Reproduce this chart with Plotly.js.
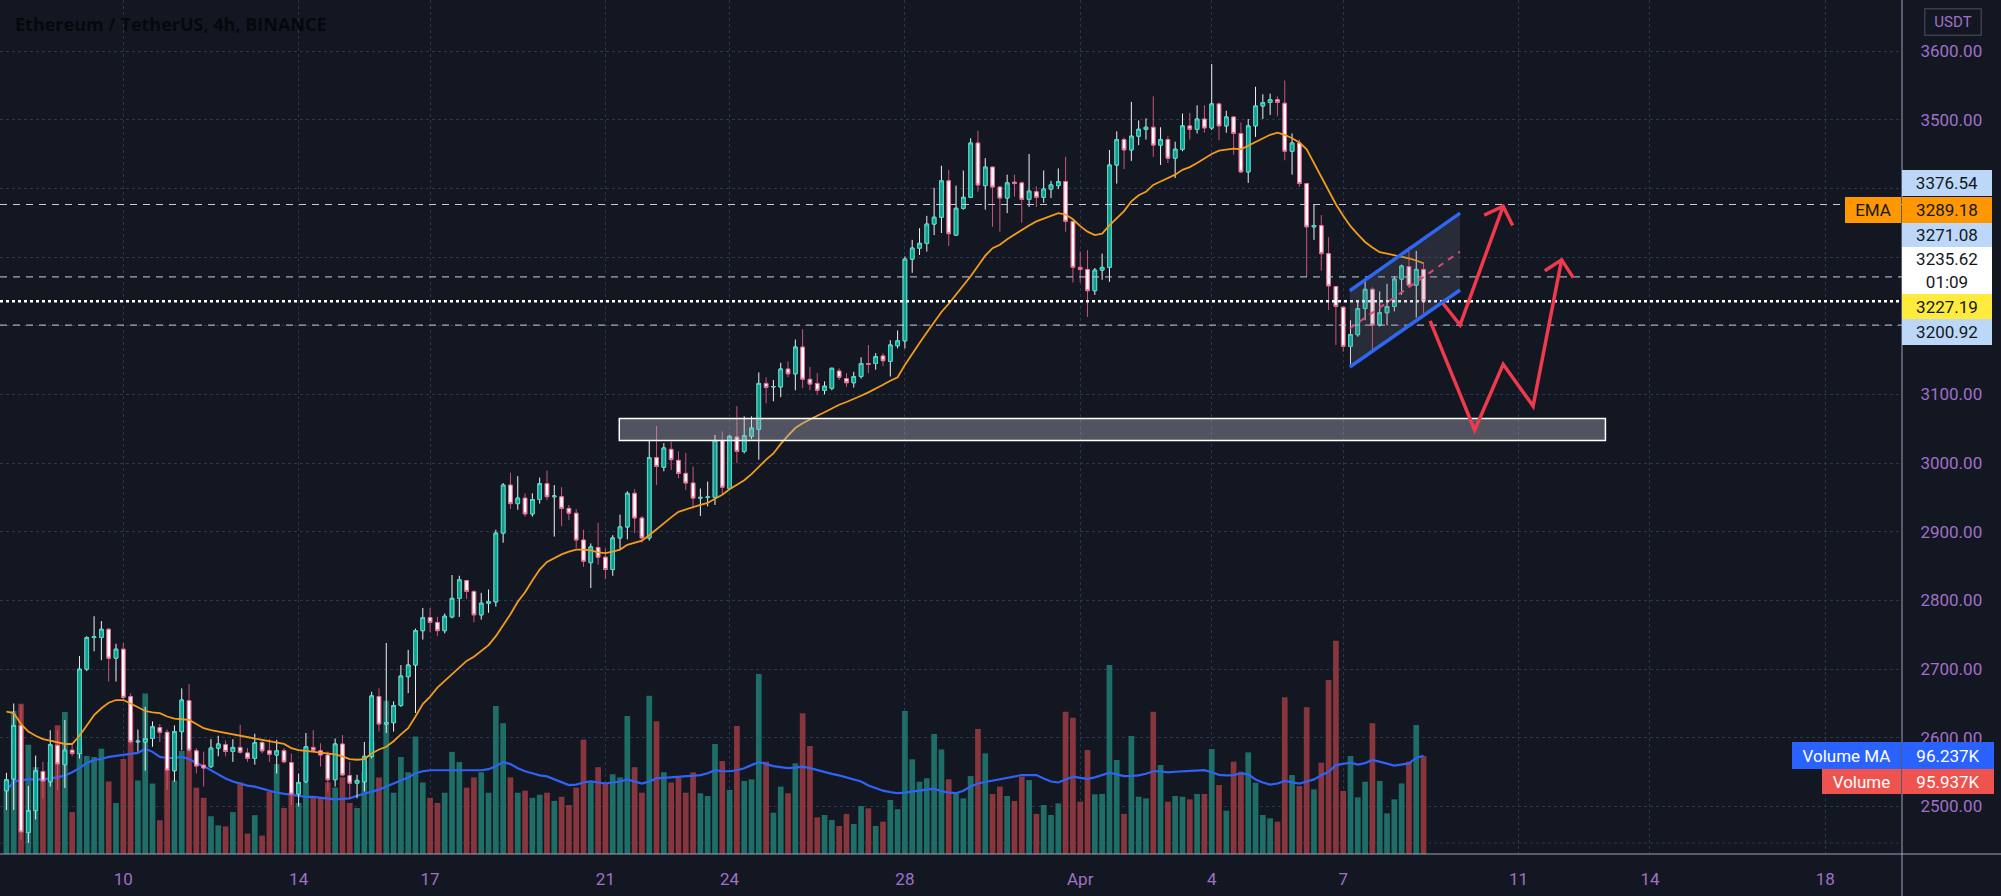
<!DOCTYPE html>
<html><head><meta charset="utf-8">
<script src="https://cdn.plot.ly/plotly-3.0.1.min.js"></script>
<style>html,body{margin:0;padding:0;background:#131722;}#chart{width:2001px;height:896px;}</style>
</head><body><div id="chart"></div>
<script>
// bar index of first candle (bar 0 = Mar 10 00:00, 4h bars)
const firstBar = -16;

const openP = [
2523,2540,2618,2462,2494,2551,2536,2589,2561,2582,
2577,2700,2746,2746,2758,2716,2729,2660,2594,2594,
2599,2615,2608,2552,2609,2654,2581,2560,2558,2585,
2590,2580,2586,2578,2570,2593,2581,2575,2581,2564,
2518,2536,2586,2581,2575,2539,2591,2545,2534,2536,
2573,2660,2620,2622,2647,2689,2706,2756,2775,2768,
2756,2776,2803,2829,2813,2779,2796,2798,2898,2968,
2941,2949,2926,2947,2970,2951,2951,2934,2927,2888,
2855,2877,2863,2845,2891,2907,2956,2920,2891,3008,
2994,3020,3004,2985,2971,2949,2950,2950,3033,2963,
3038,3017,3039,3049,3116,3111,3111,3137,3130,3169,
3122,3116,3106,3109,3134,3123,3117,3126,3145,3145,
3156,3148,3171,3178,3297,3313,3320,3348,3358,3411,
3332,3371,3387,3466,3404,3431,3402,3386,3409,3408,
3384,3395,3387,3399,3404,3410,3352,3285,3282,3251,
3281,3285,3434,3471,3456,3476,3486,3489,3463,3471,
3444,3457,3491,3486,3501,3488,3523,3491,3504,3480,
3424,3491,3520,3525,3529,3524,3454,3466,3407,3344,
3346,3305,3257,3227,3170,3187,3225,3253,3201,3219,
3228,3268,3286,3259,3282];
const highP = [
2549,2650,2648,2530,2574,2565,2611,2611,2626,2590,
2719,2748,2777,2770,2760,2737,2738,2665,2612,2645,
2624,2620,2612,2618,2672,2678,2585,2580,2598,2603,
2596,2598,2619,2585,2606,2598,2598,2597,2585,2577,
2548,2607,2611,2592,2580,2599,2604,2565,2546,2594,
2667,2672,2738,2653,2706,2728,2759,2789,2789,2776,
2781,2837,2836,2830,2815,2811,2816,2903,2971,2986,
2981,2956,2956,2979,2989,2968,2965,2939,2933,2903,
2883,2913,2876,2895,2925,2959,2962,2923,3033,3054,
3029,3031,3017,3015,2995,2963,2973,3041,3046,3041,
3083,3068,3068,3132,3125,3121,3146,3148,3180,3195,
3140,3131,3119,3139,3138,3131,3133,3154,3172,3160,
3160,3179,3193,3301,3325,3342,3360,3401,3433,3427,
3404,3426,3473,3484,3444,3432,3403,3420,3420,3410,
3450,3403,3426,3411,3429,3446,3353,3308,3310,3284,
3305,3456,3483,3474,3526,3499,3502,3534,3489,3476,
3468,3509,3510,3521,3521,3581,3525,3513,3505,3496,
3501,3548,3537,3538,3534,3557,3480,3471,3408,3376,
3361,3329,3257,3228,3208,3235,3264,3256,3250,3261,
3272,3289,3315,3309,3292];
const lowP = [
2495,2495,2451,2447,2481,2512,2529,2524,2527,2573,
2570,2697,2726,2713,2682,2682,2655,2590,2580,2552,
2587,2594,2524,2536,2582,2578,2548,2529,2556,2573,
2573,2565,2577,2565,2561,2577,2565,2548,2563,2502,
2500,2534,2580,2558,2522,2529,2544,2511,2512,2522,
2570,2609,2607,2609,2645,2665,2636,2743,2754,2748,
2752,2774,2776,2802,2768,2772,2782,2791,2884,2933,
2932,2922,2922,2941,2946,2893,2908,2917,2876,2849,
2818,2852,2831,2836,2875,2889,2898,2884,2887,2968,
2988,2990,2978,2961,2934,2923,2937,2939,2954,2961,
3000,3014,3035,3005,3087,3090,3096,3125,3106,3109,
3106,3100,3100,3106,3121,3111,3110,3123,3131,3136,
3141,3126,3167,3167,3277,3303,3308,3332,3335,3316,
3331,3369,3386,3395,3369,3344,3337,3364,3388,3350,
3373,3373,3379,3386,3399,3337,3263,3263,3213,3245,
3267,3264,3407,3428,3440,3463,3471,3446,3434,3437,
3415,3454,3471,3480,3481,3485,3470,3481,3449,3422,
3408,3475,3501,3507,3505,3441,3420,3402,3271,3325,
3280,3223,3172,3162,3144,3184,3208,3162,3199,3201,
3221,3245,3255,3212,3218];
const closeP = [
2539,2618,2463,2494,2552,2537,2590,2562,2582,2577,
2700,2746,2747,2758,2716,2729,2659,2594,2595,2599,
2616,2608,2553,2609,2655,2582,2559,2556,2585,2591,
2580,2586,2579,2570,2593,2581,2576,2581,2565,2518,
2535,2587,2582,2575,2539,2591,2546,2534,2538,2573,
2661,2620,2622,2647,2690,2706,2756,2775,2768,2756,
2777,2803,2830,2813,2779,2796,2798,2898,2968,2941,
2949,2926,2947,2970,2951,2952,2934,2927,2888,2857,
2878,2863,2845,2891,2907,2956,2920,2891,3008,2995,
3022,3005,2985,2971,2949,2950,2950.5,3033,2965,3039,
3017,3040,3051,3116,3110,3111.5,3137,3130,3169,3122,
3115,3106,3112,3138,3125,3117,3126,3145,3144,3155,
3149,3172,3178,3297,3313,3320,3348,3358,3411,3334,
3371,3387,3466,3405,3431,3402,3386,3408,3407,3384,
3396,3387,3399,3405,3410,3352,3285,3282,3251,3281,
3285,3434,3471,3456,3476,3486,3489,3463,3471,3444,
3457,3491,3486,3501,3488,3523,3491,3504,3480,3424,
3491,3520,3525,3529,3525,3454,3466,3407,3344,3346,
3305,3258,3228,3170,3187,3225,3253,3201,3219,3228,
3268,3287,3259,3282,3236];
const volumeK = [
72,140,147,107,85,73,90,126,139,41,
105,96,95,103,71,50,93,139,72,157,
69,33,83,72,101,101,65,55,37,28,
27,41,70,20,38,18,61,88,45,60,
50,70,55,55,70,65,75,50,45,80,
110,75,150,60,95,80,115,70,55,50,
60,100,90,65,75,80,60,145,128,75,
60,62,55,58,60,52,56,48,65,112,
70,85,70,78,75,135,85,60,155,130,
80,70,75,60,80,
59.4,56.8,107.7,91,62.7,125.3,71.5,73.1,176.2,90.4,
40.4,66,59.4,88.8,137.7,105.7,35.9,38.2,33.3,27.4,
39.2,29.4,47,44.7,27.4,31.7,52.9,43.8,140,92.7,
70.8,74.1,117.5,102.4,73.1,59.4,54.5,76.3,122.4,98.5,
58.8,66,56.8,51.9,75.7,72.4,39.2,48,38.2,49.6,
139.3,133.4,51.2,101.8,58.4,58.8,185,92,39.2,115.5,
56.1,54.5,139.3,87.1,51.2,56.8,56.1,53.5,58.8,58.8,
102.8,67.5,42.4,90.4,80.6,99.5,69.8,38.2,34.9,31.7,
153.4,77.3,66.5,143.6,63.3,89.4,170.4,208.8,61.7,95.9,
55.5,70.8,128,71.5,39.8,53.5,69.1,90.4,126.3,95.9];
const emaLine = [
2638,2636,2620,2609,2603,2598,2596,2593,2591,2591,
2603,2618,2633,2643,2651,2655,2655,2650,2644,2639,
2637,2636,2631,2628,2627,2626,2620,2614,2611,2609,
2607,2605,2604,2602,2600,2598,2596,2594,2591,2585,
2582,2581,2580,2579,2578,2576,2573,2569,2568,2569,
2577,2583,2587,2595,2605,2614,2631,2649,2660,2673,
2683,2693,2702,2712,2718,2726,2735,2748,2764,2780,
2798,2812,2829,2845,2856,2862,2867,2871,2874,2874,
2873,2870,2869,2871,2874,2881,2884,2887,2895,2904,
2913,2921,2929,2933,2936,2939,2942,2948,2954,2962,
2969,2975,2984,2995,3005,3014,3028,3040,3051,3058,
3064,3069,3074,3080,3085,3089,3093,3098,3103,3108,
3114,3120,3125,3143,3160,3175,3190,3205,3220,3232,
3245,3258,3272,3287,3302,3313,3318,3326,3333,3340,
3346,3352,3356,3361,3364,3362,3355,3345,3337,3332,
3334,3346,3356,3367,3381,3390,3395,3405,3410,3415,
3420,3427,3431,3437,3444,3450,3455,3457,3458,3457,
3462,3467,3473,3478,3481,3478,3473,3467,3457,3437,
3418,3396,3377,3360,3345,3333,3322,3314,3307,3305,
3303,3301,3298,3295,3291];
const volMA = [
62,71,72,73,73,73,74,75,77,80,
84,89,92,93,95,96,97,98,99,103,
100,95,94,94,95,93,89,86,82,78,
74,71,69,67,66,64,62,60,59,58,
57,56,56,55,54,53.5,54,54.5,57,59,
61,63,66,69,72,75,79,81,82,82,
82,82,82,82,82,82,83,86,90,88,
84,81,79,77,76,73,70,67.5,68,70,
71,70,69,70,71,73,71,69,71,74,
74.5,75,75.5,76,77,77.3,79,82,81,81,
82,84,87,90,88,86,85,84,84.5,85.5,
84,82,80,78.5,77,75,73,71,67,64.5,
62,60.5,59.5,60,61,62,63,64,61.5,60,
59.5,62,66,69,70.5,72,73,75,76.5,77.3,
77.3,77.3,74,71,70,73,75.7,74.5,73.5,75,
77,79.6,78,76.3,76.5,77,78.5,81,81,80,
80.5,81,81.5,82,82,80,77.5,77,77.3,79,
78,73,70,68,69,71.5,70.5,69,71,73,
77,80.5,87,88.5,89.4,87.5,89,92,90.5,88.5,
86.5,87.5,88.7,94,96.2];

// date ticks (bar index where each date label sits)
const tickBars = [0,24,42,66,83,107,131,149,167,191,209,233];
const tickLabels = ['10','14','17','21','24','28','Apr','4','7','11','14','18'];
const priceTicks = [2500,2600,2700,2800,2900,3000,3100,3200,3300,3400,3500,3600];
// price-scale labels hidden behind the level labels in the reference
const hiddenPriceTicks = [3200,3300,3400];

// price levels (horizontal lines)
const levelDashed = [3376.54, 3271.08, 3200.92];
const lastPrice = 3235.62;

// drawings in (bar, price)
const zoneRect = {x0:67.9, x1:202.9, y0:3033, y1:3065};
const chanUpper = [[167.9,3251],[183.0,3364]];
const chanLower = [[167.9,3140],[183.0,3252]];
const chanMid = [[167.9,3196],[183.0,3308]];
const arrow1 = [[180.7,3232],[183.0,3201],[188.9,3374]];
const arrow1Head = [[186.3,3361],[188.9,3374],[190.2,3346]];
const arrow2 = [[178.9,3207],[185.0,3048],[188.9,3144],[193.0,3083],[196.9,3296]];
const arrow2Head = [[194.6,3280],[196.9,3296],[198.5,3270]];

const xs = openP.map((_, i) => firstBar + i);
const bodyHi = openP.map((o, i) => Math.max(o, closeP[i]));
const bodyLo = openP.map((o, i) => Math.min(o, closeP[i]));
const volColors = openP.map((o, i) => closeP[i] >= o ? '#1f6d67' : '#86363c');

const UP_FILL = '#149a8d', UP_EDGE = '#3fd9c8', UP_WICK = '#f0f0f0';
const DN_FILL = '#ffffff', DN_EDGE = '#e36a8f', DN_WICK = '#cf5279';

const data = [
  {type:'bar', x: xs, y: volumeK, xaxis:'x', yaxis:'y', marker:{color: volColors, line:{width:0}}, width:0.78, hoverinfo:'skip'},
  {type:'scatter', mode:'lines', x: xs, y: volMA, xaxis:'x', yaxis:'y', line:{color:'#2f62f5', width:2.2}, hoverinfo:'skip'},
  {type:'scatter', mode:'lines', x: xs, y: emaLine, xaxis:'x', yaxis:'y2', line:{color:'#f29b1d', width:1.8}, hoverinfo:'skip'},
  {type:'candlestick', x: xs, open: openP, high: highP, low: lowP, close: closeP, xaxis:'x', yaxis:'y2',
   increasing:{line:{color:UP_WICK, width:1}, fillcolor:UP_FILL},
   decreasing:{line:{color:DN_WICK, width:1}, fillcolor:DN_FILL}, whiskerwidth:0, hoverinfo:'skip'},
  {type:'candlestick', x: xs, open: openP, high: bodyHi, low: bodyLo, close: closeP, xaxis:'x', yaxis:'y2',
   increasing:{line:{color:UP_EDGE, width:1}, fillcolor:UP_FILL},
   decreasing:{line:{color:DN_EDGE, width:1}, fillcolor:DN_FILL}, whiskerwidth:0, hoverinfo:'skip'}
];

const PLOT_W = 1902, PLOT_H = 854;
const GRID = '#2f3352';
const AXISC = '#9ea1b8';
const LABELC = '#a070c8';
const FONT = 'Roboto, "Open Sans", sans-serif';

const shapes = [];
levelDashed.forEach(v => shapes.push({type:'line', xref:'paper', yref:'y2', x0:0, x1:1, y0:v, y1:v, line:{color:'#c9cce0', width:1, dash:'7px,6px'}, layer:'above'}));
shapes.push({type:'line', xref:'paper', yref:'y2', x0:0, x1:1, y0:lastPrice, y1:lastPrice, line:{color:'#ffffff', width:2.5, dash:'dot'}, layer:'above'});
shapes.push({type:'line', xref:'paper', yref:'paper', x0:0, x1:1, y0:(PLOT_H-843)/PLOT_H, y1:(PLOT_H-843)/PLOT_H, line:{color:GRID, width:1, dash:'dot'}, layer:'below'});
shapes.push({type:'rect', xref:'x', yref:'y2', x0:zoneRect.x0, x1:zoneRect.x1, y0:zoneRect.y0, y1:zoneRect.y1, fillcolor:'rgba(175,178,190,0.40)', line:{color:'#ffffff', width:1.5}, layer:'above'});
const P = pts => 'M ' + pts.map(p => p[0] + ',' + p[1]).join(' L ');
shapes.push({type:'path', xref:'x', yref:'y2', path: P([chanLower[0], chanUpper[0], chanUpper[1], chanLower[1]]) + ' Z', fillcolor:'rgba(120,123,140,0.22)', line:{width:0}, layer:'above'});
shapes.push({type:'line', xref:'x', yref:'y2', x0:chanMid[0][0], y0:chanMid[0][1], x1:chanMid[1][0], y1:chanMid[1][1], line:{color:'#d9487a', width:2, dash:'6px,6px'}, layer:'above'});
[chanUpper, chanLower].forEach(l => shapes.push({type:'line', xref:'x', yref:'y2', x0:l[0][0], y0:l[0][1], x1:l[1][0], y1:l[1][1], line:{color:'#2f66f2', width:3.5}, layer:'above'}));
[arrow1, arrow1Head, arrow2, arrow2Head].forEach(a => shapes.push({type:'path', xref:'x', yref:'y2', path:P(a), line:{color:'#ee3a4c', width:3.5}, layer:'above'}));
// axis frame lines
shapes.push({type:'line', xref:'paper', yref:'paper', x0:1, x1:1, y0:-(896-PLOT_H)/PLOT_H, y1:1, line:{color:AXISC, width:1}, layer:'above'});
shapes.push({type:'line', xref:'paper', yref:'paper', x0:0, x1:2001/PLOT_W, y0:0, y1:0, line:{color:AXISC, width:1}, layer:'above'});

const annotations = [];
function box(text, top, bottom, left, right, bg, color, extra) {
  annotations.push(Object.assign({
    text: text, xref:'paper', yref:'paper', x: left/PLOT_W, xanchor:'left',
    y: 1 - ((top+bottom)/2)/PLOT_H, yanchor:'middle', showarrow:false,
    width: right-left, height: bottom-top, bgcolor: bg, borderpad:0, borderwidth:0,
    align:'center', valign:'middle', font:{family:FONT, size:17, color:color}
  }, extra || {}));
}
box('3376.54', 170, 196, 1902, 1992, '#bcd7f8', '#131722');
box('EMA', 197, 223, 1845, 1901, '#ff9800', '#131722');
box('3289.18', 197, 223, 1902, 1992, '#ff9800', '#131722');
box('3271.08', 223, 247, 1902, 1992, '#bcd7f8', '#131722');
box('3235.62<br>01:09', 247, 294, 1902, 1992, '#ffffff', '#131722');
box('3227.19', 294, 319, 1902, 1992, '#ffeb3b', '#131722');
box('3200.92', 319, 345, 1902, 1992, '#bcd7f8', '#131722');
box('Volume MA', 742, 769, 1792, 1901, '#2962ff', '#ffffff');
box('96.237K', 742, 769, 1902, 1994, '#2962ff', '#ffffff');
box('Volume', 769, 794, 1822, 1901, '#ef5350', '#ffffff');
box('95.937K', 769, 794, 1902, 1994, '#ef5350', '#ffffff');
box('USDT', 10, 35, 1924, 1979, 'rgba(0,0,0,0)', LABELC, {bordercolor:'#3a3e4c', borderwidth:1.5, font:{family:FONT, size:15, color:LABELC}});
annotations.push({text:'Ethereum / TetherUS, 4h, BINANCE', xref:'paper', yref:'paper', x:13/PLOT_W, xanchor:'left', y:1-24/PLOT_H, yanchor:'middle', showarrow:false, font:{family:'"Open Sans", sans-serif', size:18, color:'#07080c', weight:700}});

const layout = {
  width:2001, height:896,
  paper_bgcolor:'#131722', plot_bgcolor:'#131722',
  margin:{l:0, r:2001-PLOT_W, t:0, b:896-PLOT_H},
  showlegend:false, hovermode:false, dragmode:false,
  xaxis:{range:[-16.88, 243.5], tickmode:'array', tickvals:tickBars, ticktext:tickLabels,
    showgrid:true, gridcolor:GRID, griddash:'dot', gridwidth:1, zeroline:false, showline:false,
    ticks:'outside', ticklen:10, tickcolor:'rgba(0,0,0,0)', tickfont:{family:FONT, size:17, color:LABELC},
    rangeslider:{visible:false}, fixedrange:true},
  yaxis:{range:[0, 836], visible:false, showgrid:false, zeroline:false, fixedrange:true},
  yaxis2:{overlaying:'y', side:'right', anchor:'x', range:[2430.8, 3674.3], tickmode:'array', tickvals:priceTicks,
    ticktext: priceTicks.map(v => hiddenPriceTicks.includes(v) ? '' : v.toFixed(2)), showgrid:true, gridcolor:GRID, griddash:'dot', gridwidth:1,
    zeroline:false, showline:false, ticks:'outside', ticklen:14, tickcolor:'rgba(0,0,0,0)',
    tickfont:{family:FONT, size:17, color:LABELC}, fixedrange:true},
  shapes: shapes,
  annotations: annotations
};

Plotly.newPlot('chart', data, layout, {staticPlot:true, displayModeBar:false});
</script></body></html>
